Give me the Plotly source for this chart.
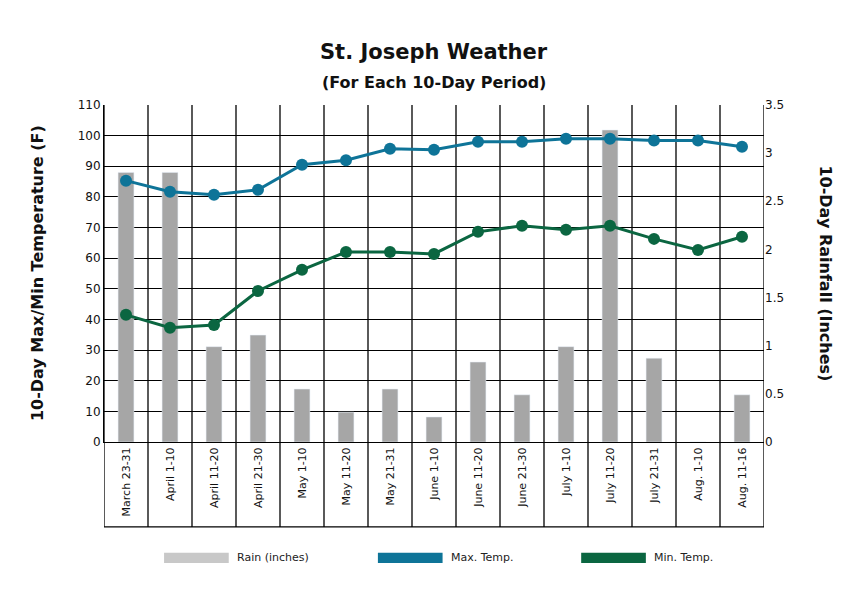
import plotly.graph_objects as go

periods = ["March 23-31", "April 1-10", "April 11-20", "April 21-30", "May 1-10",
           "May 11-20", "May 21-31", "June 1-10", "June 11-20", "June 21-30",
           "July 1-10", "July 11-20", "July 21-31", "Aug. 1-10", "Aug. 11-16"]
max_temp = [85.3, 81.7, 80.7, 82.3, 90.5, 92, 95.7, 95.4, 98, 98, 99, 99, 98.4, 98.4, 96.4]
min_temp = [41.5, 37.3, 38.2, 49.3, 56.2, 62, 62, 61.4, 68.6, 70.6, 69.3, 70.6, 66.3, 62.7, 67]
rain = [2.80, 2.80, 0.99, 1.11, 0.55, 0.31, 0.55, 0.26, 0.83, 0.49, 0.99, 3.24, 0.87, 0.0, 0.49]

blue = "#0e7498"
green = "#0b6641"
font = "DejaVu Sans"

fig = go.Figure()
# bars on the base axis (right side), temperatures overlaid on the left axis so they draw on top
fig.add_bar(x=periods, y=rain, yaxis="y", marker_color="#a6a6a6", width=0.36,
            showlegend=False)
fig.add_scatter(x=periods, y=max_temp, yaxis="y2", mode="lines+markers",
                line=dict(color=blue, width=3), marker=dict(size=12, color=blue), showlegend=False)
fig.add_scatter(x=periods, y=min_temp, yaxis="y2", mode="lines+markers",
                line=dict(color=green, width=3), marker=dict(size=12, color=green), showlegend=False)

shapes = []
for i in range(len(periods) + 1):
    shapes.append(dict(type="line", xref="x", yref="paper", x0=i - 0.5, x1=i - 0.5,
                       y0=-0.252, y1=1, line=dict(color="black", width=1.3), layer="below"))
shapes.append(dict(type="line", xref="paper", yref="paper", x0=0, x1=1, y0=-0.252, y1=-0.252,
                   line=dict(color="black", width=1.3)))
legend = [("Rain (inches)", "#c8c8c8", 0.091), ("Max. Temp.", blue, 0.415), ("Min. Temp.", green, 0.723)]
annotations = []
for name, col, x0 in legend:
    shapes.append(dict(type="rect", xref="paper", yref="paper", x0=x0, x1=x0 + 0.098,
                       y0=-0.359, y1=-0.329, fillcolor=col, line=dict(width=0)))
    annotations.append(dict(xref="paper", yref="paper", x=x0 + 0.107, y=-0.344, text=name,
                            showarrow=False, xanchor="left", yanchor="middle",
                            font=dict(size=11, family=font, color="#222")))

annotations += [
    dict(xref="paper", yref="paper", x=0.5, y=1.2, text="<b>St. Joseph Weather</b>",
         showarrow=False, font=dict(size=21, family=font, color="#111")),
    dict(xref="paper", yref="paper", x=0.5, y=1.1, text="<b>(For Each 10-Day Period)</b>",
         showarrow=False, font=dict(size=16, family=font, color="#111")),
    dict(xref="paper", yref="paper", x=-0.118, y=0.5, text="<b>10-Day Max/Min Temperature (F)</b>",
         showarrow=False, textangle=-90, font=dict(size=16, family=font, color="#111")),
    dict(xref="paper", yref="paper", x=1.11, y=0.5, text="<b>10-Day Rainfall (Inches)</b>",
         showarrow=False, textangle=90, font=dict(size=16, family=font, color="#111")),
]

fig.update_layout(
    width=867, height=594, plot_bgcolor="white", paper_bgcolor="white",
    margin=dict(l=96, r=111, t=97, b=160),
    font=dict(family=font, size=12, color="#111"),
    xaxis=dict(tickangle=-90, showgrid=False, showline=True, linecolor="black",
               ticks="", tickfont=dict(size=11), range=[-0.5, 14.5]),
    yaxis=dict(range=[0, 3.5], dtick=0.5, side="right", showgrid=False,
               zeroline=False, ticks="", tickfont=dict(size=12)),
    yaxis2=dict(range=[0, 110], dtick=10, overlaying="y", side="left", showgrid=True,
                gridcolor="black", gridwidth=1.3, zeroline=False, ticks="", showline=True,
                linecolor="black", tickfont=dict(size=12)),
    shapes=shapes, annotations=annotations,
)

fig.write_html("out.html")
